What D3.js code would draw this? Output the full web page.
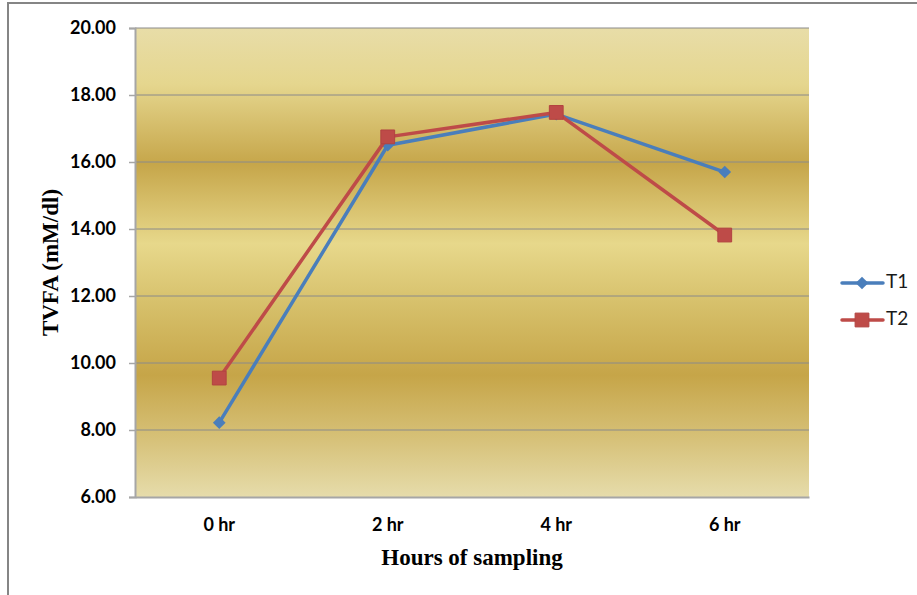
<!DOCTYPE html>
<html>
<head>
<meta charset="utf-8">
<script src="https://cdn.jsdelivr.net/npm/d3@7"></script>
<style>
  html, body { margin: 0; padding: 0; background: #fff; }
  svg { display: block; }
</style>
</head>
<body>
<svg id="chart" width="917" height="595"></svg>
<script>
// Sampling times and TVFA concentrations (mM/dl) for the two treatments
const categories = ["0 hr", "2 hr", "4 hr", "6 hr"];
const t1Values = [8.22, 16.50, 17.43, 15.70];
const t2Values = [9.55, 16.75, 17.48, 13.82];
const yTicks = [6, 8, 10, 12, 14, 16, 18, 20];
const seriesNames = ["T1", "T2"];

const series = [
  { name: seriesNames[0], values: t1Values, color: "#4a7ebb", marker: "diamond" },
  { name: seriesNames[1], values: t2Values, color: "#be4b48", marker: "square" }
];

const svg = d3.select("#chart");
const plot = { left: 135, right: 809, top: 28, bottom: 497 };

// Outer chart frame
svg.append("rect")
  .attr("x", 8).attr("y", 3)
  .attr("width", 940).attr("height", 640)
  .attr("fill", "none").attr("stroke", "#858585").attr("stroke-width", 2);

const x = d3.scaleBand().domain(categories).range([plot.left, plot.right]);
const y = d3.scaleLinear().domain([6, 20]).range([plot.bottom, plot.top]);

// Banded golden background of the plot area
const defs = svg.append("defs");
const grad = defs.append("linearGradient")
  .attr("id", "gold").attr("x1", 0).attr("y1", 0).attr("x2", 0).attr("y2", 1);
[
  [0, "#e8dda8"], [0.12, "#e5d68e"], [0.29, "#c6a64a"], [0.46, "#e7d88b"],
  [0.60, "#d5be68"], [0.74, "#c6a548"], [0.88, "#d7c27a"], [1, "#e6dcab"]
].forEach(([o, c]) => grad.append("stop").attr("offset", o).attr("stop-color", c));

svg.append("rect")
  .attr("x", plot.left).attr("y", plot.top)
  .attr("width", plot.right - plot.left).attr("height", plot.bottom - plot.top)
  .attr("fill", "url(#gold)");

// Horizontal gridlines
svg.append("g")
  .selectAll("line")
  .data(yTicks.filter(v => v > 6))
  .join("line")
  .attr("x1", plot.left).attr("x2", plot.right)
  .attr("y1", d => y(d)).attr("y2", d => y(d))
  .attr("stroke", "#8a8a8a").attr("stroke-width", 1);

// Y axis
const yAxis = svg.append("g")
  .attr("transform", `translate(${plot.left},0)`)
  .call(d3.axisLeft(y).tickValues(yTicks).tickFormat(d3.format(".2f")).tickSize(6).tickPadding(13));
yAxis.select(".domain").attr("stroke", "#a6a6a6").attr("stroke-width", 2);
yAxis.selectAll(".tick line").attr("stroke", "#a6a6a6").attr("stroke-width", 1.5);
yAxis.selectAll(".tick text")
  .attr("font-family", "Lato, 'Open Sans', sans-serif")
  .attr("font-weight", "bold").attr("font-size", 18).attr("fill", "#000");

// X axis
const xAxis = svg.append("g")
  .attr("transform", `translate(0,${plot.bottom})`)
  .call(d3.axisBottom(x).tickSize(0).tickPadding(21));
xAxis.select(".domain").attr("stroke", "#a6a6a6").attr("stroke-width", 2);
xAxis.selectAll(".tick text")
  .attr("font-family", "Lato, 'Open Sans', sans-serif")
  .attr("font-weight", "bold").attr("font-size", 18).attr("fill", "#000");

// Axis titles
svg.append("text")
  .attr("transform", `translate(58,${(plot.top + plot.bottom) / 2}) rotate(-90)`)
  .attr("text-anchor", "middle")
  .attr("font-family", "'Liberation Serif', 'DejaVu Serif', serif")
  .attr("font-weight", "bold").attr("font-size", 23)
  .text("TVFA (mM/dl)");

svg.append("text")
  .attr("x", (plot.left + plot.right) / 2).attr("y", 565)
  .attr("text-anchor", "middle")
  .attr("font-family", "'Liberation Serif', 'DejaVu Serif', serif")
  .attr("font-weight", "bold").attr("font-size", 23)
  .text("Hours of sampling");

// Marker shapes
const diamond = d3.symbol().type(d3.symbolSquare).size(80);
const square = d3.symbol().type(d3.symbolSquare).size(190);
function drawMarker(g, s, cx, cy) {
  if (s.marker === "diamond") {
    g.append("path").attr("d", diamond())
      .attr("transform", `translate(${cx},${cy}) rotate(45)`)
      .attr("fill", s.color);
  } else {
    g.append("path").attr("d", square())
      .attr("transform", `translate(${cx},${cy})`)
      .attr("fill", s.color).attr("stroke", "#b24340").attr("stroke-width", 1);
  }
}

const line = d3.line()
  .x((d, i) => x(categories[i]) + x.bandwidth() / 2)
  .y(d => y(d));

series.forEach(s => {
  const g = svg.append("g");
  g.append("path")
    .attr("d", line(s.values))
    .attr("fill", "none").attr("stroke", s.color)
    .attr("stroke-width", 3.5).attr("stroke-linejoin", "round");
  s.values.forEach((v, i) => drawMarker(g, s, x(categories[i]) + x.bandwidth() / 2, y(v)));
});

// Legend
const legend = svg.append("g");
series.forEach((s, i) => {
  const ly = 283 + i * 37;
  const g = legend.append("g");
  g.append("line")
    .attr("x1", 842).attr("x2", 883).attr("y1", ly).attr("y2", ly)
    .attr("stroke", s.color).attr("stroke-width", 3.5).attr("stroke-linecap", "round");
  drawMarker(g, s, 862, ly);
  g.append("text")
    .attr("x", 886).attr("y", ly + 5)
    .attr("font-family", "Lato, 'Open Sans', sans-serif")
    .attr("font-size", 19).attr("fill", "#1a1a1a")
    .text(s.name);
});
</script>
</body>
</html>
